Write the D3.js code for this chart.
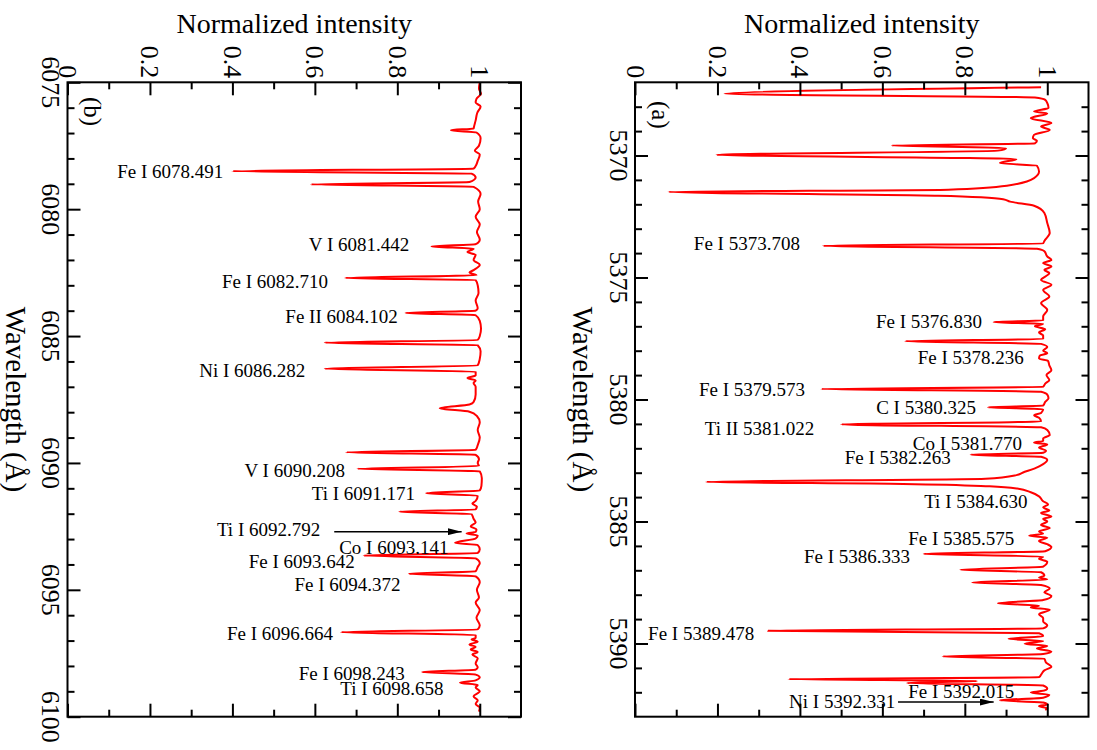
<!DOCTYPE html>
<html><head><meta charset="utf-8">
<script src="https://cdn.jsdelivr.net/npm/d3@7"></script>
<style>body{margin:0;background:#fff} svg{display:block}</style>
</head><body>
<svg id="c" width="1097" height="750"></svg>
<script>
// ---------- data ----------
const intensityMajor = [0, 0.2, 0.4, 0.6, 0.8, 1];
const intensityMajorLabels = ["0", "0.2", "0.4", "0.6", "0.8", "1"];
const intensityMinor = [0.1, 0.3, 0.5, 0.7, 0.9];

const waveDomainA = [5367, 5393];
const waveMajorA = [5370, 5375, 5380, 5385, 5390];
const waveMinorA = [5368, 5369, 5371, 5372, 5373, 5374, 5376, 5377, 5378, 5379, 5381, 5382, 5383, 5384, 5386, 5387, 5388, 5389, 5391, 5392];

const waveDomainB = [6075, 6100];
const waveMajorB = [6075, 6080, 6085, 6090, 6095, 6100];
const waveMinorB = [6076, 6077, 6078, 6079, 6081, 6082, 6083, 6084, 6086, 6087, 6088, 6089, 6091, 6092, 6093, 6094, 6096, 6097, 6098, 6099];

// spectrum (a): [wavelength, normalized intensity]
const spectrumA = [
[5367.20,0.985],[5367.47,0.217],[5367.62,0.970],[5367.72,0.995],[5367.85,1.000],[5368.05,1.003],[5368.20,0.968],[5368.28,1.000],[5368.47,0.960],[5368.67,1.010],[5368.81,0.985],[5368.95,1.006],[5369.15,0.968],[5369.29,0.965],[5369.40,0.975],[5369.50,0.970],
[5369.59,0.6225],[5369.70,0.900],[5369.80,0.880],[5369.97,0.1975],[5370.15,0.925],[5370.31,0.885],[5370.42,0.975],[5370.66,0.980],[5370.93,0.968],[5371.24,0.902],[5371.40,0.760],[5371.49,0.081],[5371.65,0.735],[5371.79,0.893],[5371.89,0.910],[5372.06,0.968],[5372.36,0.993],[5372.77,1.000],[5373.18,1.006],[5373.50,0.993],[5373.60,0.990],
[5373.70,0.456],[5373.82,0.975],[5373.92,0.993],[5374.14,1.000],[5374.28,1.010],[5374.41,0.990],[5374.55,1.010],[5374.69,0.993],[5374.82,1.005],[5375.10,0.985],[5375.30,1.010],[5375.51,0.990],[5375.78,1.005],[5376.05,0.985],[5376.33,1.000],[5376.60,0.990],[5376.76,0.990],
[5376.83,0.870],[5376.90,0.990],[5377.00,0.970],[5377.12,0.995],[5377.25,0.980],[5377.38,0.990],[5377.52,0.990],[5377.61,0.656],[5377.72,0.985],
[5377.85,1.000],[5378.00,0.990],[5378.10,1.000],[5378.20,0.982],[5378.32,0.980],[5378.42,1.002],[5378.60,1.005],[5378.80,1.010],[5379.00,0.998],[5379.20,1.005],[5379.35,0.995],[5379.48,0.990],
[5379.57,0.452],[5379.68,0.985],[5379.80,1.000],[5379.95,1.003],[5380.10,0.995],[5380.25,0.990],[5380.32,0.856],[5380.40,0.990],[5380.55,0.985],[5380.65,0.968],[5380.75,0.980],[5380.90,0.985],
[5381.02,0.500],[5381.14,0.985],[5381.25,1.000],[5381.45,1.006],[5381.60,0.990],[5381.70,0.990],[5381.77,0.968],[5381.84,1.000],[5381.97,0.980],[5382.10,0.997],[5382.18,0.990],[5382.26,0.814],[5382.35,0.985],[5382.48,1.000],[5382.65,0.990],[5382.82,0.970],[5383.00,0.940],[5383.10,0.925],[5383.25,0.850],
[5383.38,0.1725],[5383.46,0.650],[5383.56,0.860],[5383.65,0.927],[5383.80,0.960],[5383.97,0.980],[5384.17,0.990],[5384.30,1.002],[5384.42,0.990],[5384.55,1.005],[5384.65,0.985],[5384.80,1.010],[5384.90,0.990],
[5385.00,1.000],[5385.14,0.985],[5385.27,1.006],[5385.41,0.980],[5385.50,0.990],[5385.58,0.956],[5385.66,1.000],[5385.80,0.980],[5385.93,1.000],[5386.05,1.010],[5386.22,0.995],
[5386.33,0.700],[5386.44,0.990],[5386.53,0.980],[5386.65,1.000],[5386.85,0.990],[5386.98,0.789],[5387.08,0.985],[5387.22,0.993],[5387.30,0.980],[5387.38,1.000],
[5387.50,0.818],[5387.60,0.985],[5387.75,1.006],[5387.90,0.993],[5388.05,1.010],[5388.22,0.990],[5388.35,0.880],[5388.45,0.980],[5388.52,0.960],[5388.62,1.006],[5388.80,0.980],[5388.95,0.990],[5389.10,0.990],[5389.25,1.000],[5389.38,0.990],
[5389.48,0.3225],[5389.58,0.980],[5389.70,0.990],[5389.81,0.906],[5389.90,0.990],[5390.01,0.945],[5390.10,1.000],[5390.20,0.975],[5390.33,1.010],[5390.43,0.990],
[5390.53,0.746],[5390.63,0.993],[5390.78,0.997],[5390.95,1.010],[5391.10,0.993],[5391.28,0.985],[5391.38,0.980],
[5391.46,0.3725],[5391.54,0.830],[5391.62,0.660],[5391.72,0.990],[5391.85,1.000],[5391.95,0.985],[5392.01,0.960],[5392.10,1.005],[5392.22,0.990],[5392.33,0.885],[5392.42,0.990],[5392.50,1.000],[5392.57,0.980],[5392.66,1.000],[5392.72,0.995]
];

// spectrum (b): [wavelength, normalized intensity]
const spectrumB = [
[6075.00,1.000],[6075.25,0.998],[6075.45,1.003],[6075.65,0.992],[6075.80,0.990],[6075.95,1.002],
[6076.20,0.994],[6076.50,0.990],[6076.75,0.986],[6076.82,0.985],[6076.89,0.930],[6076.98,0.992],
[6077.20,1.002],[6077.50,0.998],[6077.70,0.988],[6077.85,1.000],[6078.10,0.995],[6078.30,0.990],
[6078.40,0.985],[6078.50,0.400],[6078.60,0.980],[6078.75,0.990],[6078.93,0.975],[6079.02,0.590],[6079.12,0.985],
[6079.40,1.002],[6079.70,0.996],[6080.00,1.000],[6080.30,0.990],[6080.60,1.000],[6080.90,0.993],[6081.20,1.000],
[6081.38,0.990],[6081.47,0.883],[6081.56,0.985],[6081.69,0.970],[6081.80,0.990],[6082.00,0.985],[6082.20,1.000],[6082.40,0.985],
[6082.50,0.975],[6082.60,0.992],[6082.71,0.674],[6082.80,0.990],
[6083.00,0.995],[6083.30,0.997],[6083.60,0.990],[6083.90,0.995],
[6084.00,0.990],[6084.09,0.820],[6084.18,0.990],
[6084.40,1.000],[6084.70,1.003],[6085.00,1.000],[6085.15,0.995],[6085.26,0.624],[6085.36,0.995],
[6085.60,1.002],[6085.90,1.000],[6086.15,0.995],[6086.29,0.624],[6086.40,0.990],
[6086.55,0.990],[6086.65,0.970],[6086.75,0.990],[6086.85,0.985],[6087.00,0.990],[6087.30,0.990],[6087.60,0.985],
[6087.70,0.975],[6087.84,0.903],[6087.98,0.975],
[6088.15,0.993],[6088.40,1.000],[6088.70,0.995],[6089.00,1.000],[6089.30,0.995],[6089.48,0.990],[6089.58,0.676],[6089.68,0.990],
[6089.85,0.998],[6090.00,0.995],[6090.12,0.998],[6090.23,0.703],[6090.33,1.000],
[6090.60,1.005],[6090.90,1.004],[6091.08,1.000],[6091.19,0.870],[6091.29,0.995],
[6091.50,0.990],[6091.60,0.982],[6091.72,0.993],[6091.83,0.990],[6091.92,0.805],[6092.02,0.980],
[6092.20,0.985],[6092.35,0.990],[6092.50,0.978],[6092.62,0.992],[6092.72,0.990],[6092.78,0.968],[6092.86,0.995],
[6092.98,0.990],[6093.15,0.940],[6093.24,0.995],[6093.40,1.000],[6093.55,0.995],[6093.65,0.718],[6093.76,0.990],
[6093.95,1.000],[6094.10,0.995],[6094.27,0.990],[6094.37,0.828],[6094.47,0.990],
[6094.70,1.000],[6095.00,0.993],[6095.30,0.998],[6095.50,0.990],[6095.80,1.000],[6096.10,0.992],[6096.40,1.000],[6096.56,0.995],
[6096.67,0.664],[6096.78,0.990],[6096.90,0.990],[6096.95,0.980],[6097.05,0.995],[6097.15,0.975],[6097.25,0.990],[6097.35,0.978],[6097.45,0.995],[6097.55,0.982],[6097.70,0.995],[6097.90,0.990],
[6098.05,0.995],[6098.14,0.990],[6098.24,0.860],[6098.34,0.990],[6098.45,1.000],[6098.57,0.990],[6098.66,0.952],[6098.75,0.995],
[6098.85,0.990],[6099.00,1.000],[6099.20,0.985],[6099.35,0.995],[6099.50,0.990],[6099.65,1.000],[6099.80,0.998]
];

// line labels: [text, wavelength of text centre, intensity at text end]
const labelsA = [
["Fe I 5373.708",5373.62,0.400],
["Fe I 5376.830",5376.80,0.842],
["Fe I 5378.236",5378.30,0.943],
["Fe I 5379.573",5379.60,0.4125],
["C I 5380.325",5380.35,0.827],
["Ti II 5381.022",5381.21,0.435],
["Co I 5381.770",5381.82,0.939],
["Fe I 5382.263",5382.37,0.766],
["Ti I 5384.630",5384.21,0.952],
["Fe I 5385.575",5385.71,0.920],
["Fe I 5386.333",5386.43,0.667],
["Fe I 5389.478",5389.60,0.289],
["Fe I 5392.015",5391.99,0.920],
["Ni I 5392.331",5392.40,0.631]
];
const labelsB = [
["Fe I 6078.491",6078.54,0.378],
["V I 6081.442",6081.40,0.829],
["Fe I 6082.710",6082.85,0.632],
["Fe II 6084.102",6084.24,0.801],
["Ni I 6086.282",6086.38,0.577],
["V I 6090.208",6090.32,0.673],
["Ti I 6091.171",6091.20,0.843],
["Ti I 6092.792",6092.65,0.613],
["Co I 6093.141",6093.33,0.924],
["Fe I 6093.642",6093.89,0.697],
["Fe I 6094.372",6094.81,0.808],
["Fe I 6096.664",6096.72,0.644],
["Fe I 6098.243",6098.32,0.818],
["Ti I 6098.658",6098.91,0.912]
];
// arrows: [wavelength, intensity start, intensity end]
const arrowsA = [[5392.40, 0.638, 0.870]];
const arrowsB = [[6092.71, 0.647, 0.956]];

// ---------- drawing ----------
const svg = d3.select("#c");
const FONT = "'Liberation Serif','Times New Roman',Times,serif";
svg.append("defs").append("marker")
  .attr("id","ah").attr("markerUnits","userSpaceOnUse")
  .attr("markerWidth",14).attr("markerHeight",7)
  .attr("refX",14).attr("refY",3.5).attr("orient","auto")
  .append("path").attr("d","M0,0 L14,3.5 L0,7 Z").attr("fill","#000");

const TOP = 82.3, BOTTOM = 716.7, WIDTH = 453.5;

function panel(x0, waveDomain, waveMajor, waveMinor, spectrum, labels, arrows, tag, tagY, clipId) {
  const x = d3.scaleLinear().domain([0, 1.1]).range([x0, x0 + WIDTH]);
  const y = d3.scaleLinear().domain(waveDomain).range([TOP, BOTTOM]);
  const g = svg.append("g");
  const x1 = x0 + WIDTH;

  g.append("clipPath").attr("id", clipId).append("rect")
    .attr("x", x0).attr("y", TOP).attr("width", WIDTH).attr("height", BOTTOM - TOP);

  // spectrum
  const ln = d3.line().x(d => x(d[1])).y(d => y(d[0])).curve(d3.curveMonotoneY);
  g.append("path").attr("d", ln(spectrum)).attr("fill","none")
    .attr("stroke","#ff0000").attr("stroke-width",2).attr("stroke-linejoin","round")
    .attr("clip-path", `url(#${clipId})`);

  // axes (ticks inward)
  function ax(axisGen, scale, vals, size, tr) {
    const a = g.append("g").attr("transform", tr)
      .call(axisGen(scale).tickValues(vals).tickSize(size).tickFormat(""));
    a.select(".domain").remove();
    a.selectAll("line").attr("stroke","#000").attr("stroke-width",2);
  }
  ax(d3.axisTop, x, intensityMajor, -13, `translate(0,${TOP})`);
  ax(d3.axisTop, x, intensityMinor, -7, `translate(0,${TOP})`);
  ax(d3.axisBottom, x, intensityMajor, -13, `translate(0,${BOTTOM})`);
  ax(d3.axisBottom, x, intensityMinor, -7, `translate(0,${BOTTOM})`);
  ax(d3.axisLeft, y, waveMajor, -13, `translate(${x0},0)`);
  ax(d3.axisLeft, y, waveMinor, -7, `translate(${x0},0)`);
  ax(d3.axisRight, y, waveMajor, -13, `translate(${x1},0)`);
  ax(d3.axisRight, y, waveMinor, -7, `translate(${x1},0)`);

  // frame
  g.append("rect").attr("x", x0).attr("y", TOP).attr("width", WIDTH).attr("height", BOTTOM - TOP)
    .attr("fill","none").attr("stroke","#000").attr("stroke-width",2);

  // intensity tick labels (rotated)
  intensityMajor.forEach((v, i) => {
    const px = x(v), py = TOP - 4;
    g.append("text").attr("x", px).attr("y", py)
      .attr("transform", `rotate(90,${px},${py})`)
      .attr("text-anchor","end").attr("dominant-baseline","central")
      .attr("font-family", FONT).attr("font-size", 26).text(intensityMajorLabels[i]);
  });
  // wavelength tick labels (rotated)
  waveMajor.forEach(v => {
    const px = x0 - 17, py = y(v);
    g.append("text").attr("x", px).attr("y", py)
      .attr("transform", `rotate(90,${px},${py})`)
      .attr("text-anchor","middle").attr("dominant-baseline","central")
      .attr("font-family", FONT).attr("font-size", 26).text(v);
  });
  // axis titles
  g.append("text").attr("x", (x0 + x1) / 2).attr("y", 33)
    .attr("text-anchor","middle").attr("font-family", FONT).attr("font-size", 28)
    .text("Normalized intensity");
  const wx = x0 - 52, wy = (TOP + BOTTOM) / 2;
  g.append("text").attr("x", wx).attr("y", wy)
    .attr("transform", `rotate(90,${wx},${wy})`)
    .attr("text-anchor","middle").attr("dominant-baseline","central")
    .attr("font-family", FONT).attr("font-size", 29).text("Wavelength (Å)");
  // panel tag
  const tx = x0 + 25;
  g.append("text").attr("x", tx).attr("y", tagY)
    .attr("transform", `rotate(90,${tx},${tagY})`)
    .attr("text-anchor","start").attr("dominant-baseline","central")
    .attr("font-family", FONT).attr("font-size", 25).text(tag);

  // line labels
  labels.forEach(d => {
    g.append("text").attr("x", x(d[2])).attr("y", y(d[1])).attr("dy","0.33em")
      .attr("text-anchor","end").attr("font-family", FONT).attr("font-size", 19)
      .attr("fill","#000").text(d[0]);
  });
  // arrows
  arrows.forEach(d => {
    g.append("line").attr("x1", x(d[1])).attr("x2", x(d[2]))
      .attr("y1", y(d[0])).attr("y2", y(d[0]))
      .attr("stroke","#000").attr("stroke-width",1.5).attr("marker-end","url(#ah)");
  });
}

panel(67.5, waveDomainB, waveMajorB, waveMinorB, spectrumB, labelsB, arrowsB, "(b)", 97, "clipB");
panel(635, waveDomainA, waveMajorA, waveMinorA, spectrumA, labelsA, arrowsA, "(a)", 101, "clipA");
</script>
</body></html>
